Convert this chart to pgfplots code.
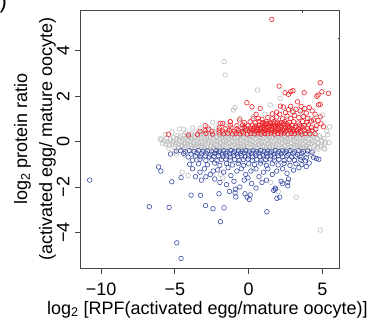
\documentclass[border=0pt]{standalone}
\usepackage{fontspec}
\setmainfont{Liberation Sans}
\usepackage{pgfplots}
\pgfplotsset{compat=1.18}
\definecolor{rred}{RGB}{235,35,42}
\definecolor{rblue}{RGB}{58,78,166}
\definecolor{rgray}{RGB}{190,190,190}
\definecolor{axgray}{RGB}{70,70,70}
\tikzset{ytl/.style={rotate=90, anchor=base, inner sep=0pt, font=\fontsize{18bp}{21bp}\selectfont}}
\begin{document}
\begin{tikzpicture}
\begin{axis}[
  scale only axis, width=258.3bp, height=257.7bp,
  xmin=-11.38, xmax=6.12, ymin=-5.57, ymax=5.78,
  axis line style={axgray, line width=0.8bp},
  xtick={-10,-5,0,5}, xticklabels={−10,−5,0,5},
  ytick={-4,-2,0,2,4}, yticklabels={},
  tick align=outside, major tick length=5.5bp,
  xtick pos=bottom, ytick pos=left,
  tick style={axgray, line width=0.8bp},
  ticklabel style={font=\fontsize{18bp}{21bp}\selectfont},
  xticklabel style={anchor=base, inner sep=0pt, yshift=-21.6bp},
  xlabel={log\textsubscript{2} [RPF(activated egg/mature oocyte)]},
  xlabel style={at={(axis description cs:0.5,0)}, anchor=base, inner sep=0pt, yshift=-46bp, xshift=-2.4bp, font=\fontsize{18bp}{21bp}\selectfont},
  ylabel={log\textsubscript{2} protein ratio\\(activated egg/ mature oocyte)},
  ylabel style={at={(axis description cs:-0.0956,0.5)}, anchor=south, inner sep=0pt, align=center, font=\fontsize{18bp}{25bp}\selectfont},
  clip=false,
  every axis plot/.append style={only marks, mark=o, mark size=2.3bp, line width=0.6bp},
]
% gray (not significant)
\addplot[rgray, mark options={rgray}] coordinates {
(-5.92,0.08) (-5.7,0.02) (-5.5,-0.03) (-5.3,0.05) (-5.1,0.0) (-4.92,-0.04) (-4.7,0.03) (-4.52,0.0) (-4.3,-0.05) (-4.12,0.04) (-3.9,0.01) (-3.72,-0.03) (-3.5,0.05) (-3.3,0.0) (-3.12,-0.04) (-2.9,0.03) (-2.72,0.0) (-2.5,-0.05) (-2.3,0.04) (-2.12,0.01) (-1.9,-0.03) (-1.72,0.05) (-1.5,0.0) (-1.3,-0.04) (-1.12,0.03) (-0.9,0.0) (-0.72,-0.05) (-0.5,0.04) (-0.3,0.01) (-0.12,-0.03) (0.1,0.05) (0.28,0.0) (0.5,-0.04) (0.7,0.03) (0.88,0.0) (1.1,-0.05) (1.3,0.04) (1.48,0.01) (1.7,-0.03) (1.9,0.05) (2.08,0.0) (2.3,-0.04) (2.5,0.03) (2.68,0.0) (2.9,-0.05) (3.1,0.04) (3.28,0.01) (3.5,-0.03) (3.7,0.05) (3.88,0.0) (4.1,-0.04) (4.3,0.03) (4.5,0.0) (4.72,-0.05) (4.95,0.04) (5.2,-0.02)
(-5.55,0.15) (-5.32,0.12) (-5.1,0.17) (-4.9,0.13) (-4.68,0.16) (-4.48,0.11) (-4.27,0.15) (-4.05,0.18) (-3.85,0.12) (-3.65,0.16) (-3.42,0.13) (-3.2,0.17) (-3.0,0.11) (-2.8,0.15) (-2.6,0.18) (-2.38,0.12) (-2.18,0.16) (-1.98,0.13) (-1.78,0.17) (-1.57,0.11) (-1.37,0.15) (-1.17,0.18) (-0.97,0.12) (-0.77,0.16) (-0.57,0.13) (-0.37,0.17) (-0.17,0.11) (0.02,0.15) (0.22,0.18) (0.42,0.12) (0.62,0.16) (0.82,0.13) (1.02,0.17) (1.22,0.11) (1.42,0.15) (1.62,0.18) (1.82,0.12) (2.02,0.16) (2.22,0.13) (2.42,0.17) (2.62,0.11) (2.82,0.15) (3.02,0.18) (3.22,0.12) (3.42,0.16) (3.62,0.13) (3.82,0.17) (4.02,0.11) (4.22,0.15) (4.42,0.18) (4.64,0.12) (4.86,0.16) (5.1,0.13)
(-5.6,-0.12) (-5.38,-0.15) (-5.18,-0.1) (-4.98,-0.14) (-4.78,-0.11) (-4.58,-0.16) (-4.36,-0.12) (-4.15,-0.09) (-3.95,-0.15) (-3.75,-0.11) (-3.55,-0.14) (-3.35,-0.1) (-3.15,-0.16) (-2.95,-0.12) (-2.75,-0.09) (-2.55,-0.15) (-2.35,-0.11) (-2.15,-0.14) (-1.95,-0.1) (-1.75,-0.16) (-1.55,-0.12) (-1.35,-0.09) (-1.15,-0.15) (-0.95,-0.11) (-0.75,-0.14) (-0.55,-0.1) (-0.35,-0.16) (-0.15,-0.12) (0.05,-0.09) (0.25,-0.15) (0.45,-0.11) (0.65,-0.14) (0.85,-0.1) (1.05,-0.16) (1.25,-0.12) (1.45,-0.09) (1.65,-0.15) (1.85,-0.11) (2.05,-0.14) (2.25,-0.1) (2.45,-0.16) (2.65,-0.12) (2.85,-0.09) (3.05,-0.15) (3.25,-0.11) (3.45,-0.14) (3.65,-0.1) (3.85,-0.16) (4.05,-0.12) (4.25,-0.09) (4.47,-0.15) (4.7,-0.11) (4.92,-0.14) (5.15,-0.1)
(-4.85,0.27) (-4.6,0.24) (-4.38,0.29) (-4.15,0.25) (-3.92,0.28) (-3.7,0.23) (-3.48,0.27) (-3.26,0.3) (-3.05,0.24) (-2.84,0.28) (-2.62,0.25) (-2.41,0.29) (-2.2,0.23) (-1.99,0.27) (-1.78,0.3) (-1.57,0.24) (-1.36,0.28) (-1.15,0.25) (-0.94,0.29) (-0.73,0.23) (-0.52,0.27) (-0.31,0.3) (-0.1,0.24) (0.11,0.28) (0.32,0.25) (0.53,0.29) (0.74,0.23) (0.95,0.27) (1.16,0.3) (1.37,0.24) (1.58,0.28) (1.79,0.25) (2.0,0.29) (2.21,0.23) (2.42,0.27) (2.63,0.3) (2.84,0.24) (3.05,0.28) (3.26,0.25) (3.47,0.29) (3.68,0.23) (3.89,0.27) (4.1,0.3) (4.32,0.24) (4.55,0.28) (4.8,0.25)
(-5.0,-0.24) (-4.75,-0.27) (-4.52,-0.22) (-4.3,-0.26) (-4.08,-0.23) (-3.86,-0.28) (-3.64,-0.24) (-3.42,-0.21) (-3.21,-0.27) (-3.0,-0.23) (-2.79,-0.26) (-2.58,-0.22) (-2.37,-0.28) (-2.16,-0.24) (-1.95,-0.21) (-1.74,-0.27) (-1.53,-0.23) (-1.32,-0.26) (-1.11,-0.22) (-0.9,-0.28) (-0.69,-0.24) (-0.48,-0.21) (-0.27,-0.27) (-0.06,-0.23) (0.15,-0.26) (0.36,-0.22) (0.57,-0.28) (0.78,-0.24) (0.99,-0.21) (1.2,-0.27) (1.41,-0.23) (1.62,-0.26) (1.83,-0.22) (2.04,-0.28) (2.25,-0.24) (2.46,-0.21) (2.67,-0.27) (2.88,-0.23) (3.09,-0.26) (3.3,-0.22) (3.51,-0.28) (3.72,-0.24) (3.93,-0.21) (4.15,-0.27) (4.4,-0.23) (4.65,-0.26) (4.9,-0.22)
(-4.25,0.38) (-3.9,0.35) (-3.6,0.4) (-3.25,0.36) (-2.95,0.39) (-2.6,0.34) (-2.3,0.38) (-1.95,0.41) (-1.65,0.35) (-1.3,0.39) (-1.0,0.36) (-0.7,0.4) (-0.4,0.34) (-0.1,0.38) (0.2,0.41) (0.5,0.35) (0.8,0.39) (1.1,0.36) (1.4,0.4) (1.7,0.34) (2.0,0.38) (2.3,0.41) (2.6,0.35) (2.9,0.39) (3.2,0.36) (3.5,0.4) (3.8,0.34) (4.1,0.38) (4.4,0.42)
(-4.4,-0.35) (-4.05,-0.38) (-3.7,-0.34) (-3.35,-0.37) (-3.0,-0.33) (-2.65,-0.39) (-2.3,-0.35) (-1.95,-0.32) (-1.6,-0.37) (-1.25,-0.34) (-0.9,-0.38) (-0.55,-0.33) (-0.2,-0.36) (0.15,-0.39) (0.5,-0.34) (0.85,-0.37) (1.2,-0.33) (1.55,-0.38) (1.9,-0.35) (2.25,-0.32) (2.6,-0.37) (2.95,-0.34) (3.3,-0.38) (3.65,-0.33) (4.0,-0.36) (4.35,-0.39) (4.7,-0.34)
(-6.0,0.12) (-5.85,-0.08) (-5.65,0.3) (-5.2,0.42) (-5.4,-0.3) (-5.0,-0.45) (-4.7,0.55) (-4.42,0.54) (-4.9,-0.55) (-4.35,-0.6) (-3.8,0.6) (-3.3,0.58) (-2.43,0.85) (-2.8,0.65) (-2.2,0.6) (-1.6,0.7) (-0.58,1.02) (-1.03,1.39) (-0.92,1.5) (0.3,1.1) (0.6,2.27) (1.46,1.61) (2.14,1.9) (1.1,1.2) (-1.66,3.52) (-1.59,2.93) (3.0,1.35) (3.6,1.25) (4.2,1.0) (5.03,1.17) (5.48,0.65) (5.35,0.3) (5.1,-0.3) (5.15,-0.33) (5.45,-0.05) (5.3,0.45) (4.85,-3.9) (3.22,-2.45) (2.0,-2.2) (1.5,-1.8) (-4.1,-1.5) (-4.5,-1.35) (-1.9,-1.45) (-1.75,-1.6) (0.3,-1.2) (1.0,-0.9) (2.6,-0.95) (3.6,-0.7) (4.3,-0.6) (-3.5,-0.8) (-2.2,-0.5) (0.7,0.55) (1.8,0.6) (2.9,0.7) (-0.2,0.6)
};
% blue (down)
\addplot[rblue, mark options={rblue}] coordinates {
(-5.3,-0.55) (-4.9,-0.42) (-4.6,-0.4) (-4.3,-0.45) (-4.0,-0.41) (-3.7,-0.44) (-3.4,-0.4) (-3.1,-0.43) (-2.8,-0.41) (-2.5,-0.45) (-2.2,-0.4) (-1.95,-0.43) (-1.7,-0.41) (-1.45,-0.45) (-1.2,-0.4) (-0.95,-0.44) (-0.7,-0.41) (-0.45,-0.43) (-0.2,-0.4) (0.05,-0.45) (0.3,-0.41) (0.55,-0.44) (0.8,-0.4) (1.05,-0.43) (1.3,-0.41) (1.55,-0.45) (1.8,-0.4) (2.05,-0.44) (2.3,-0.41) (2.55,-0.43) (2.8,-0.4) (3.1,-0.45) (3.4,-0.41) (3.7,-0.44) (4.0,-0.42) (4.3,-0.47) (4.6,-0.75)
(-4.4,-0.52) (-3.9,-0.55) (-3.5,-0.5) (-3.2,-0.54) (-2.9,-0.51) (-2.6,-0.56) (-2.3,-0.52) (-2.05,-0.5) (-1.8,-0.55) (-1.55,-0.51) (-1.3,-0.54) (-1.05,-0.5) (-0.8,-0.55) (-0.55,-0.52) (-0.3,-0.5) (-0.05,-0.55) (0.2,-0.51) (0.45,-0.54) (0.7,-0.5) (0.95,-0.55) (1.2,-0.52) (1.45,-0.5) (1.7,-0.55) (1.95,-0.51) (2.2,-0.54) (2.45,-0.5) (2.7,-0.55) (3.0,-0.52) (3.3,-0.56) (3.6,-0.51) (3.95,-0.55) (4.4,-0.7)
(-4.1,-0.68) (-3.6,-0.64) (-3.25,-0.67) (-2.95,-0.63) (-2.65,-0.68) (-2.35,-0.65) (-2.05,-0.62) (-1.75,-0.67) (-1.5,-0.64) (-1.25,-0.68) (-1.0,-0.63) (-0.75,-0.66) (-0.5,-0.62) (-0.25,-0.67) (0.0,-0.64) (0.25,-0.68) (0.5,-0.63) (0.75,-0.66) (1.0,-0.62) (1.25,-0.67) (1.5,-0.64) (1.75,-0.68) (2.0,-0.63) (2.3,-0.66) (2.6,-0.62) (2.9,-0.67) (3.2,-0.64) (3.55,-0.68) (3.9,-0.72) (4.75,-0.78)
(-3.8,-0.82) (-3.3,-0.78) (-2.9,-0.83) (-2.5,-0.79) (-2.15,-0.84) (-1.85,-0.8) (-1.55,-0.77) (-1.25,-0.82) (-0.95,-0.79) (-0.65,-0.84) (-0.35,-0.8) (-0.05,-0.77) (0.25,-0.82) (0.55,-0.79) (0.85,-0.84) (1.15,-0.8) (1.45,-0.77) (1.75,-0.82) (2.05,-0.79) (2.4,-0.84) (2.75,-0.8) (3.1,-0.83) (3.5,-0.79) (3.85,-0.85)
(-4.0,-1.0) (-3.4,-0.98) (-2.8,-1.02) (-2.3,-0.95) (-1.95,-1.05) (-1.5,-0.97) (-1.1,-1.03) (-0.7,-0.96) (-0.35,-1.05) (0.0,-0.98) (0.4,-1.02) (0.8,-0.95) (1.2,-1.05) (1.6,-0.98) (2.0,-1.03) (2.4,-0.96) (2.8,-1.05) (3.2,-0.98) (3.6,-1.02) (4.1,-0.95)
(-6.1,-1.12) (-5.95,-1.3) (-4.58,-1.59) (-3.8,-1.2) (-3.3,-1.35) (-3.0,-1.2) (-2.6,-1.45) (-2.4,-1.3) (-2.1,-1.25) (-1.7,-1.35) (-1.4,-1.15) (-1.2,-1.5) (-0.8,-1.3) (-0.5,-1.2) (-0.2,-1.45) (0.15,-1.3) (0.5,-1.2) (0.7,-1.55) (1.0,-1.35) (1.3,-1.2) (1.6,-1.45) (1.9,-1.3) (2.3,-1.2) (2.6,-1.4) (3.04,-1.26) (3.4,-1.15) (3.9,-1.1) (-0.05,-1.6) (-3.6,-1.55) (-2.9,-1.55)
(-5.21,-1.77) (-1.95,-1.8) (-1.5,-1.9) (-1.0,-1.75) (-0.6,-2.0) (-0.3,-1.7) (0.2,-1.85) (0.5,-2.05) (0.9,-1.8) (1.2,-1.7) (1.7,-2.15) (1.8,-2.05) (2.2,-1.75) (2.3,-1.85) (2.65,-1.8) (2.7,-1.65) (2.65,-1.95) (-2.3,-1.65) (-3.2,-1.7) (-1.3,-2.2) (-0.9,-2.1)
(-10.77,-1.7) (-6.73,-2.87) (-5.39,-2.9) (-4.87,-4.46) (-4.58,-5.15) (-3.9,-2.36) (-3.27,-2.37) (-2.92,-2.82) (-2.42,-2.96) (-1.67,-2.92) (-2.01,-2.3) (-1.91,-3.53) (-0.92,-2.26) (-0.87,-2.44) (-0.25,-2.3) (-0.1,-2.45) (0.05,-2.55) (0.1,-2.35) (1.23,-3.09) (1.91,-2.5) (2.1,-2.45) (1.8,-2.1)
};
% red (up)
\addplot[rred, mark options={rred}] coordinates {
(-5.44,0.32) (-4.08,0.29) (-3.47,0.32) (-2.9,0.36) (-2.45,0.33) (-2.0,0.38) (-1.7,0.34) (-1.4,0.37) (-1.1,0.33) (-0.85,0.36) (-0.6,0.34) (-0.35,0.38) (-0.1,0.33) (0.15,0.36) (0.4,0.34) (0.62,0.38) (0.85,0.33) (1.08,0.36) (1.3,0.34) (1.52,0.38) (1.75,0.33) (1.98,0.36) (2.2,0.34) (2.42,0.38) (2.65,0.33) (2.88,0.36) (3.1,0.34) (3.35,0.38) (3.6,0.33) (3.85,0.36) (4.15,0.34) (4.5,0.35)
(-2.95,0.48) (-2.5,0.45) (-2.0,0.5) (-1.75,0.46) (-1.3,0.49) (-0.95,0.45) (-0.7,0.48) (-0.45,0.44) (-0.2,0.49) (0.05,0.46) (0.28,0.5) (0.5,0.45) (0.72,0.48) (0.95,0.44) (1.15,0.49) (1.35,0.46) (1.55,0.5) (1.75,0.45) (1.95,0.48) (2.15,0.44) (2.35,0.49) (2.55,0.46) (2.78,0.5) (3.0,0.45) (3.25,0.48) (3.5,0.44) (3.78,0.49) (4.05,0.46) (4.3,0.5)
(-2.0,0.6) (-1.6,0.57) (-1.2,0.6) (-0.8,0.56) (-0.45,0.59) (-0.15,0.56) (0.12,0.6) (0.35,0.57) (0.58,0.61) (0.8,0.56) (1.0,0.59) (1.2,0.57) (1.4,0.61) (1.6,0.56) (1.8,0.59) (2.0,0.57) (2.2,0.61) (2.42,0.56) (2.65,0.59) (2.9,0.57) (3.15,0.61) (3.4,0.56) (3.7,0.6) (4.0,0.57) (4.25,0.62)
(-1.93,0.8) (-1.75,0.8) (-1.25,0.72) (-0.8,0.7) (-0.4,0.73) (-0.05,0.69) (0.25,0.72) (0.5,0.68) (0.72,0.73) (0.95,0.7) (1.15,0.74) (1.35,0.69) (1.55,0.72) (1.78,0.68) (2.0,0.73) (2.2,0.7) (2.45,0.74) (2.7,0.69) (2.95,0.72) (3.2,0.68) (3.45,0.73) (3.75,0.7) (4.05,0.74)
(-0.62,0.95) (-0.3,0.84) (0.1,0.87) (0.45,0.83) (0.7,0.88) (0.95,0.84) (1.2,0.87) (1.45,0.82) (1.7,0.88) (1.95,0.85) (2.2,0.83) (2.45,0.88) (2.75,0.84) (3.05,0.87) (3.35,0.82) (3.65,0.88) (3.95,0.85) (4.25,0.9)
(-1.25,0.87) (0.3,1.0) (0.65,1.02) (0.9,0.98) (1.3,1.05) (1.6,1.0) (1.9,1.08) (2.3,1.0) (2.6,1.12) (2.85,1.02) (3.1,1.15) (3.4,1.05) (3.7,1.1) (4.0,1.02) (4.4,0.95) (4.7,0.93) (4.85,1.09) (5.07,0.65) (4.9,0.78) (4.6,0.7) (4.55,0.55)
(-0.12,1.71) (0.22,1.53) (0.78,1.46) (2.15,1.56) (2.35,1.52) (2.85,1.55) (3.31,1.75) (4.73,1.62) (4.85,1.64) (1.9,1.3) (2.5,1.28) (2.7,1.4) (3.0,1.3) (3.2,1.42) (3.5,1.35) (3.8,1.45) (3.9,1.25) (4.3,1.35) (4.5,1.2) (1.6,1.22) (0.5,1.2) (2.1,1.2) (3.55,1.55) (4.1,1.5)
(1.57,5.38) (2.06,2.44) (2.47,2.15) (2.7,2.08) (3.0,2.24) (2.85,2.2) (3.76,2.15) (4.85,2.59) (4.62,1.99) (4.96,2.19) (5.41,2.12) (4.7,2.05)
(-3.3,0.45) (-2.7,0.55) (-2.95,0.7) (-1.25,0.87)
(0.6,0.52) (0.85,0.62) (1.05,0.52) (1.25,0.64) (1.45,0.52) (1.65,0.65) (1.85,0.52) (2.05,0.64) (2.28,0.52) (2.5,0.64) (0.9,0.78) (1.1,0.8) (1.3,0.78) (1.5,0.8) (1.7,0.78) (1.9,0.8) (2.1,0.78) (2.35,0.8) (2.6,0.78) (3.3,0.52) (3.6,0.65) (2.8,0.62) (3.05,0.52) (0.2,0.52) (-0.3,0.62) (0.4,0.64)
};
\draw[axgray, line width=0.8bp] (axis cs:3.65,5.78) -- ++(0pt,-2.5bp);
\draw[axgray, line width=0.8bp] (axis cs:6.12,4.55) -- ++(-1.5bp,0pt);
\node[ytl] at ([xshift=-11.2bp]axis cs:-11.38,-4) {−4};
\node[ytl] at ([xshift=-11.2bp]axis cs:-11.38,-2) {−2};
\node[ytl] at ([xshift=-11.2bp]axis cs:-11.38,0) {0};
\node[ytl] at ([xshift=-11.2bp]axis cs:-11.38,2) {2};
\node[ytl] at ([xshift=-11.2bp]axis cs:-11.38,4) {4};
\coordinate (sw) at (rel axis cs:0,0);
\coordinate (ne) at (rel axis cs:1,1);
\end{axis}
\node[anchor=east, inner sep=0pt, font=\fontsize{22bp}{24bp}\selectfont] at ([shift={(-73.5bp,7bp)}]sw |- ne) {)};
\pgfresetboundingbox
\path[use as bounding box] ([shift={(-80.7bp,-54bp)}]sw) rectangle ([shift={(36bp,10.3bp)}]ne);
\end{tikzpicture}
\end{document}
